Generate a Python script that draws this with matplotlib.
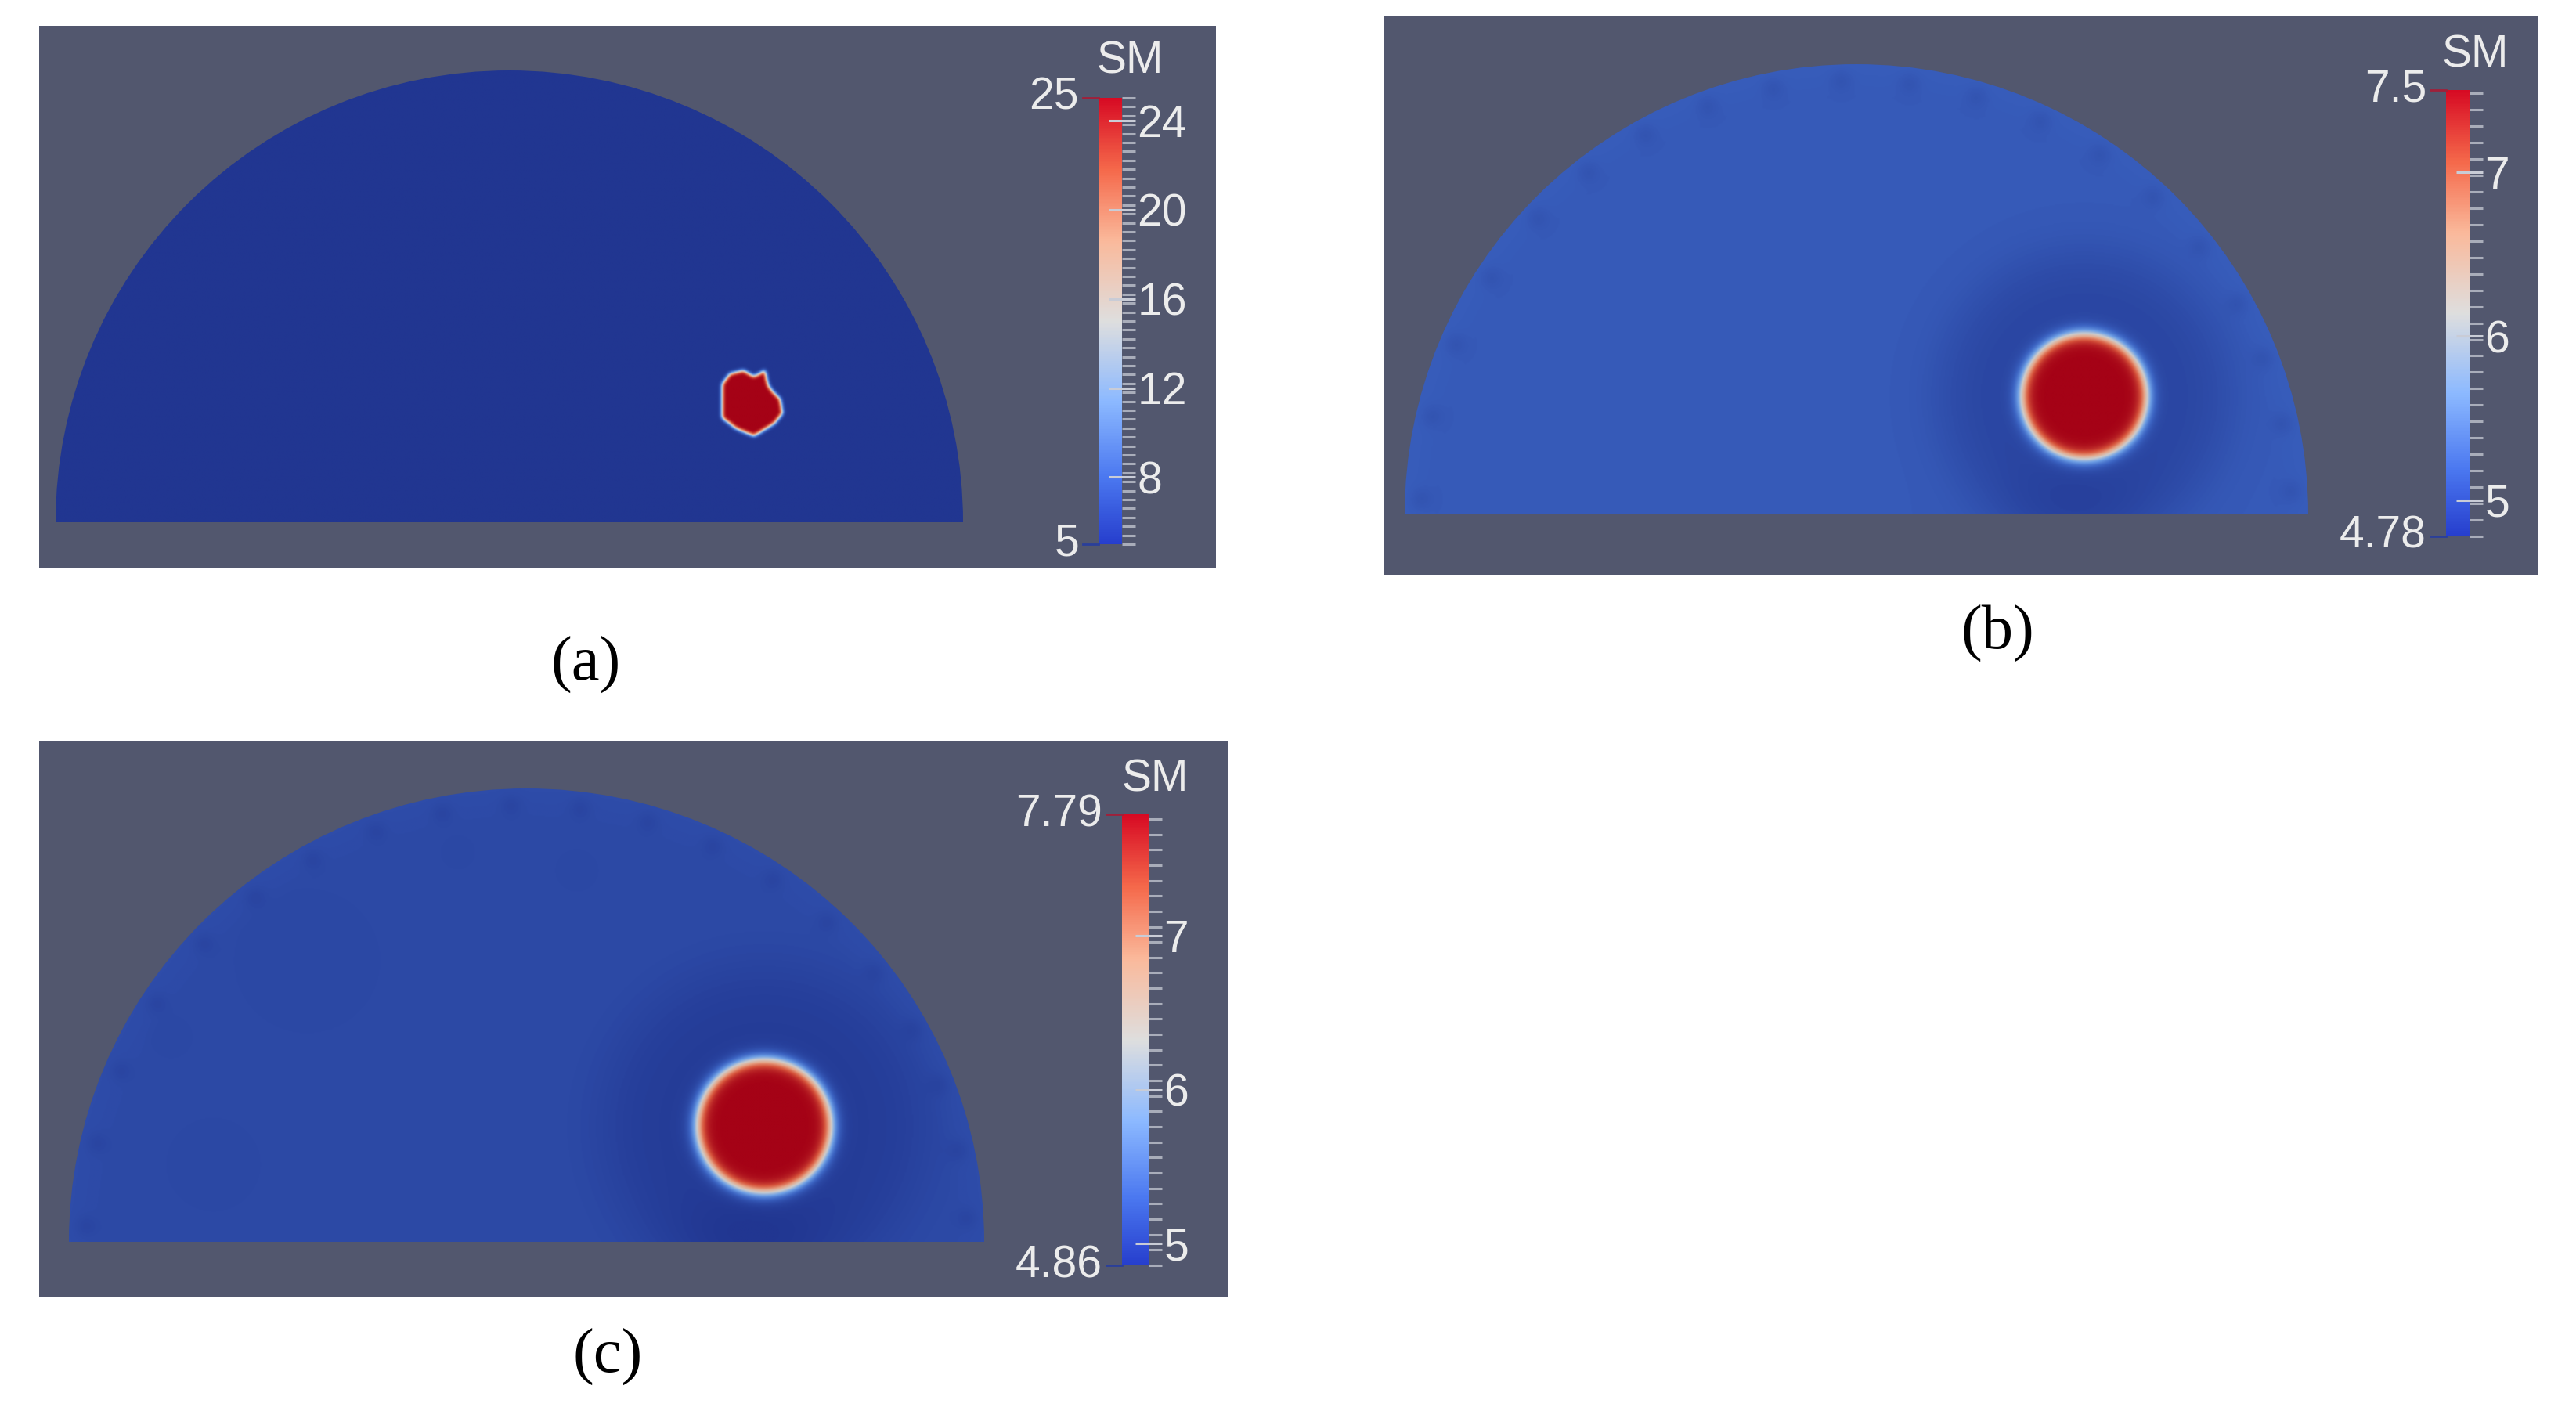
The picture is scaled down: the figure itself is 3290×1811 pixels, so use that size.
import numpy as np
import matplotlib
matplotlib.use("Agg")
import matplotlib.pyplot as plt
from matplotlib.colors import LinearSegmentedColormap, Normalize
from matplotlib.cm import ScalarMappable
from matplotlib.path import Path
from matplotlib.patches import Wedge
from matplotlib.lines import Line2D

W, H, DPI = 3290, 1811, 100

# ---- data ----
panel_labels = ["(a)", "(b)", "(c)"]
bar_title = "SM"
bar_min = [5.0, 4.78, 4.86]
bar_max = [25.0, 7.5, 7.79]
bar_min_text = ["5", "4.78", "4.86"]
bar_max_text = ["25", "7.5", "7.79"]
major_ticks = [[8, 12, 16, 20, 24], [5, 6, 7], [5, 6, 7]]
minor_step = [0.4, 0.1, 0.1]

# soil-moisture field: background, inclusion and darker halo around it
background_level = [5.0, 5.10, 5.05]
inclusion_level = [25.0, 7.5, 7.79]
ring_level = [5.0, 4.92, 4.92]
inclusion_x = [0.535, 0.505, 0.52]
inclusion_y = [0.265, 0.262, 0.255]
inclusion_radius = [0.0, 0.139, 0.147]
ring_radius = [0.0, 0.33, 0.36]
# (a) reconstructed inclusion outline (unit half-disc coordinates)
poly_a_x = [0.469, 0.486, 0.517, 0.540, 0.564, 0.572, 0.598, 0.603, 0.586, 0.540, 0.500, 0.469]
poly_a_y = [0.305, 0.328, 0.336, 0.322, 0.336, 0.300, 0.271, 0.241, 0.219, 0.190, 0.207, 0.231]
# electrodes on the arc (degrees) show up as small darker spots in (b), (c)
electrode_angles = [3, 12, 21, 29, 38, 47, 56, 65, 74, 83, 92, 101, 110, 119, 128, 137, 147, 157, 167, 178]
electrode_dip = [0.0, 0.06, 0.05]
# faint darker patches inside (c)
patch_c_x = [-0.48, -0.685, -0.777, -0.15, 0.11]
patch_c_y = [0.62, 0.17, 0.452, 0.86, 0.82]
patch_c_r = [0.17, 0.11, 0.05, 0.04, 0.05]

# ---- layout (pixels in the 3290x1811 canvas) ----
panel_px = [(50, 33, 1553, 726), (1767, 21, 3242, 734), (50, 946, 1569, 1657)]
field_px = [(71, 90, 1230, 667), (1794, 82, 2948, 657), (88, 1007, 1257, 1586)]
bar_px = [(1403, 125, 1433, 695), (3124, 115, 3154, 685), (1433, 1040, 1467, 1616)]
sm_xy = [(1443, 79), (3161, 70), (1475, 996)]
label_xy = [(748, 849), (2551, 809), (776, 1733)]

bg_color = "#52576e"
txt_color = "#ececec"
cbar_nodes = [(0.00, (38, 62, 205)), (0.15, (75, 120, 240)), (0.32, (140, 185, 255)),
              (0.50, (222, 222, 222)), (0.68, (250, 185, 155)), (0.84, (245, 105, 75)),
              (1.00, (215, 10, 35))]
# same map as shaded on the lit surface
surf_nodes = [(0.00, (33, 54, 145)), (0.15, (60, 100, 195)), (0.32, (110, 160, 230)),
              (0.50, (205, 205, 205)), (0.68, (230, 165, 135)), (0.84, (215, 85, 60)),
              (1.00, (165, 2, 22))]
bar_cmap = LinearSegmentedColormap.from_list(
    "ctw", [(p, tuple(c / 255 for c in rgb)) for p, rgb in cbar_nodes])
surf_cmap = LinearSegmentedColormap.from_list(
    "ctw_lit", [(p, tuple(c / 255 for c in rgb)) for p, rgb in surf_nodes])


def frac(x0, y0, x1, y1):
    return [x0 / W, 1 - y1 / H, (x1 - x0) / W, (y1 - y0) / H]


def blur(a, s):
    k = np.exp(-0.5 * (np.arange(-3 * s, 3 * s + 1) / s) ** 2)
    k /= k.sum()
    a = np.apply_along_axis(lambda r: np.convolve(r, k, mode="same"), 1, a)
    return np.apply_along_axis(lambda r: np.convolve(r, k, mode="same"), 0, a)


def make_field(i):
    nx, ny = 900, 450
    x = np.linspace(-1, 1, nx)
    y = np.linspace(0, 1, ny)
    X, Y = np.meshgrid(x, y)
    R = np.hypot(X, Y)
    if i == 0:
        pts = np.column_stack([X.ravel(), Y.ravel()])
        inside = Path(np.column_stack([poly_a_x, poly_a_y])).contains_points(pts)
        m = blur(inside.reshape(X.shape).astype(float), 2)
        return background_level[0] + (inclusion_level[0] - background_level[0]) * m
    d = np.hypot(X - inclusion_x[i], Y - inclusion_y[i])
    ring = np.exp(-(d / ring_radius[i]) ** 6)
    base = background_level[i] + (ring_level[i] - background_level[i]) * ring
    # darker below the inclusion, near the surface line
    base -= 0.07 * np.exp(-((X - inclusion_x[i] + 0.03) ** 2 / 0.03 + Y ** 2 / 0.01))
    # slightly lighter band along the arc
    base += 0.03 * np.clip((R - 0.93) / 0.07, 0, 1)
    for a in electrode_angles:
        ex, ey = 0.965 * np.cos(np.radians(a)), 0.965 * np.sin(np.radians(a))
        base -= electrode_dip[i] * np.exp(-((X - ex) ** 2 + (Y - ey) ** 2) / 0.0006)
    if i == 2:
        for px, py, pr in zip(patch_c_x, patch_c_y, patch_c_r):
            base -= 0.015 * np.exp(-(np.hypot(X - px, Y - py) / pr) ** 4)
    core = 1 / (1 + np.exp((d - inclusion_radius[i]) / 0.009))
    return base + (inclusion_level[i] - base) * core


def main():
    fig = plt.figure(figsize=(W / DPI, H / DPI), dpi=DPI)
    fig.patch.set_facecolor("white")

    for i in range(3):
        pax = fig.add_axes(frac(*panel_px[i]))
        pax.set_facecolor(bg_color)
        pax.set_xticks([])
        pax.set_yticks([])
        for s in pax.spines.values():
            s.set_visible(False)

        norm = Normalize(bar_min[i], bar_max[i])
        fax = fig.add_axes(frac(*field_px[i]))
        im = fax.imshow(make_field(i), extent=[-1, 1, 0, 1], origin="lower", aspect="auto",
                        cmap=surf_cmap, norm=norm, interpolation="bilinear")
        half_disc = Wedge((0, 0), 1, 0, 180, transform=fax.transData)
        im.set_clip_path(half_disc)
        fax.set_xlim(-1, 1)
        fax.set_ylim(0, 1)
        fax.axis("off")

        cax = fig.add_axes(frac(*bar_px[i]))
        cb = fig.colorbar(ScalarMappable(norm=norm, cmap=bar_cmap), cax=cax)
        cb.outline.set_visible(False)
        cb.set_ticks(major_ticks[i])
        cb.ax.set_yticklabels([str(t) for t in major_ticks[i]])
        minors = np.arange(bar_min[i], bar_max[i] + 1e-9, minor_step[i])
        cax.set_yticks(minors, minor=True)
        cax.tick_params(axis="y", which="major", direction="inout", length=24, width=2.2,
                        color="#c9ccd6", labelsize=41, labelcolor=txt_color, pad=2)
        cax.tick_params(axis="y", which="minor", direction="out", length=12, width=2.2,
                        color="#a9adba")
        for lab in cax.get_yticklabels():
            lab.set_fontfamily("Liberation Sans")

        x0, y0, x1, y1 = bar_px[i]
        fig.text((x0 - 25) / W, 1 - y0 / H, bar_max_text[i], ha="right", va="center",
                 fontsize=41, color=txt_color, family="Liberation Sans")
        fig.text((x0 - 25) / W, 1 - y1 / H, bar_min_text[i], ha="right", va="center",
                 fontsize=41, color=txt_color, family="Liberation Sans")
        fig.add_artist(Line2D([(x0 - 20) / W, x0 / W], [1 - y0 / H] * 2, color="#a0203a", lw=2,
                              transform=fig.transFigure))
        fig.add_artist(Line2D([(x0 - 20) / W, x0 / W], [1 - y1 / H] * 2, color="#2a3f9a", lw=2,
                              transform=fig.transFigure))
        fig.text(sm_xy[i][0] / W, 1 - sm_xy[i][1] / H, bar_title, ha="center", va="center",
                 fontsize=41, color=txt_color, family="Liberation Sans")

        fig.text(label_xy[i][0] / W, 1 - label_xy[i][1] / H, panel_labels[i], ha="center",
                 va="center", fontsize=58, color="black", family="Liberation Serif")

    fig.savefig("out.png", dpi=DPI, facecolor="white")


if __name__ == "__main__":
    main()
